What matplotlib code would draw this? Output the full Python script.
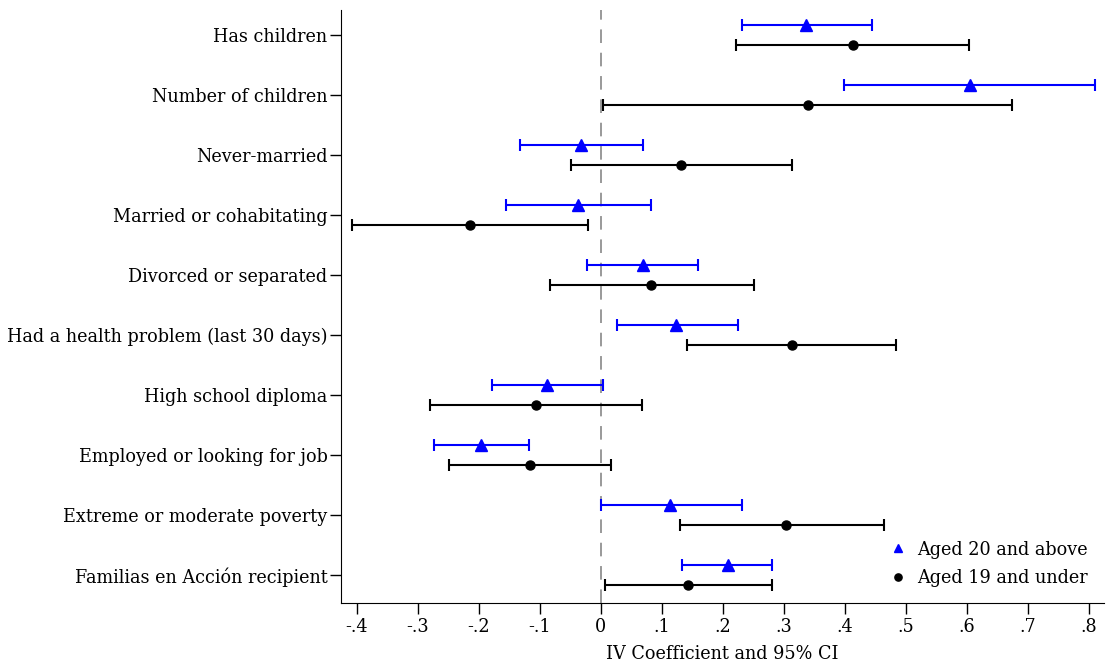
import numpy as np
import matplotlib.pyplot as plt

plt.rcParams['font.family'] = ['DejaVu Serif']

labels = ["Has children", "Number of children", "Never-married",
          "Married or cohabitating", "Divorced or separated",
          "Had a health problem (last 30 days)", "High school diploma",
          "Employed or looking for job", "Extreme or moderate poverty",
          "Familias en Acción recipient"]

# Aged 20 and above
old_coef = [0.337, 0.605, -0.032, -0.037, 0.069, 0.124, -0.088, -0.196, 0.114, 0.208]
old_lo = [0.231, 0.398, -0.133, -0.156, -0.023, 0.026, -0.178, -0.274, 0.000, 0.134]
old_hi = [0.444, 0.811, 0.070, 0.083, 0.159, 0.225, 0.003, -0.118, 0.231, 0.281]

# Aged 19 and under
young_coef = [0.413, 0.339, 0.131, -0.215, 0.083, 0.314, -0.106, -0.116, 0.303, 0.143]
young_lo = [0.222, 0.003, -0.049, -0.408, -0.083, 0.142, -0.280, -0.249, 0.130, 0.007]
young_hi = [0.603, 0.674, 0.313, -0.021, 0.251, 0.484, 0.067, 0.017, 0.464, 0.280]

xticks = [-0.4, -0.3, -0.2, -0.1, 0, 0.1, 0.2, 0.3, 0.4, 0.5, 0.6, 0.7, 0.8]
xticklabels = ["-.4", "-.3", "-.2", "-.1", "0", ".1", ".2", ".3", ".4", ".5", ".6", ".7", ".8"]

fig = plt.figure(figsize=(11.06, 6.66), dpi=100)
ax = fig.add_axes([0.308, 0.0946, 0.69, 0.89])

pos = np.arange(1, len(labels) + 1)
off = 10 / 60

oc = np.array(old_coef)
yc = np.array(young_coef)
ax.errorbar(oc, pos - off, xerr=[oc - np.array(old_lo), np.array(old_hi) - oc],
            fmt='^', color='blue', ms=8, elinewidth=1.5, capsize=4, capthick=1.5,
            label='Aged 20 and above')
ax.errorbar(yc, pos + off, xerr=[yc - np.array(young_lo), np.array(young_hi) - yc],
            fmt='o', color='black', ms=6.5, elinewidth=1.5, capsize=4, capthick=1.5,
            label='Aged 19 and under')

ax.axvline(0, color='#999999', ls=(0, (7, 5)), lw=1.4, zorder=0)

ax.set_xlim(-0.4262, 0.8246)
ax.set_ylim(10.47, 0.583)
ax.set_yticks(pos)
ax.set_yticklabels(labels, fontsize=12.7)
ax.set_xticks(xticks)
ax.set_xticklabels(xticklabels, fontsize=12.7)
ax.set_xlabel("IV Coefficient and 95% CI", fontsize=12.7, labelpad=6)
ax.tick_params(axis='both', length=8, width=1, direction='out')
ax.tick_params(axis='y', pad=1.5)
ax.tick_params(axis='x', pad=3)
ax.spines['top'].set_visible(False)
ax.spines['right'].set_visible(False)

h, l = ax.get_legend_handles_labels()
h = [hh[0] for hh in h]
ax.legend(h, l, loc='lower right', bbox_to_anchor=(1.0, 0.0), frameon=False,
          fontsize=12.7, handlelength=1, handletextpad=0.6, labelspacing=0.6,
          markerscale=0.8)

fig.savefig("out.png", dpi=100)
